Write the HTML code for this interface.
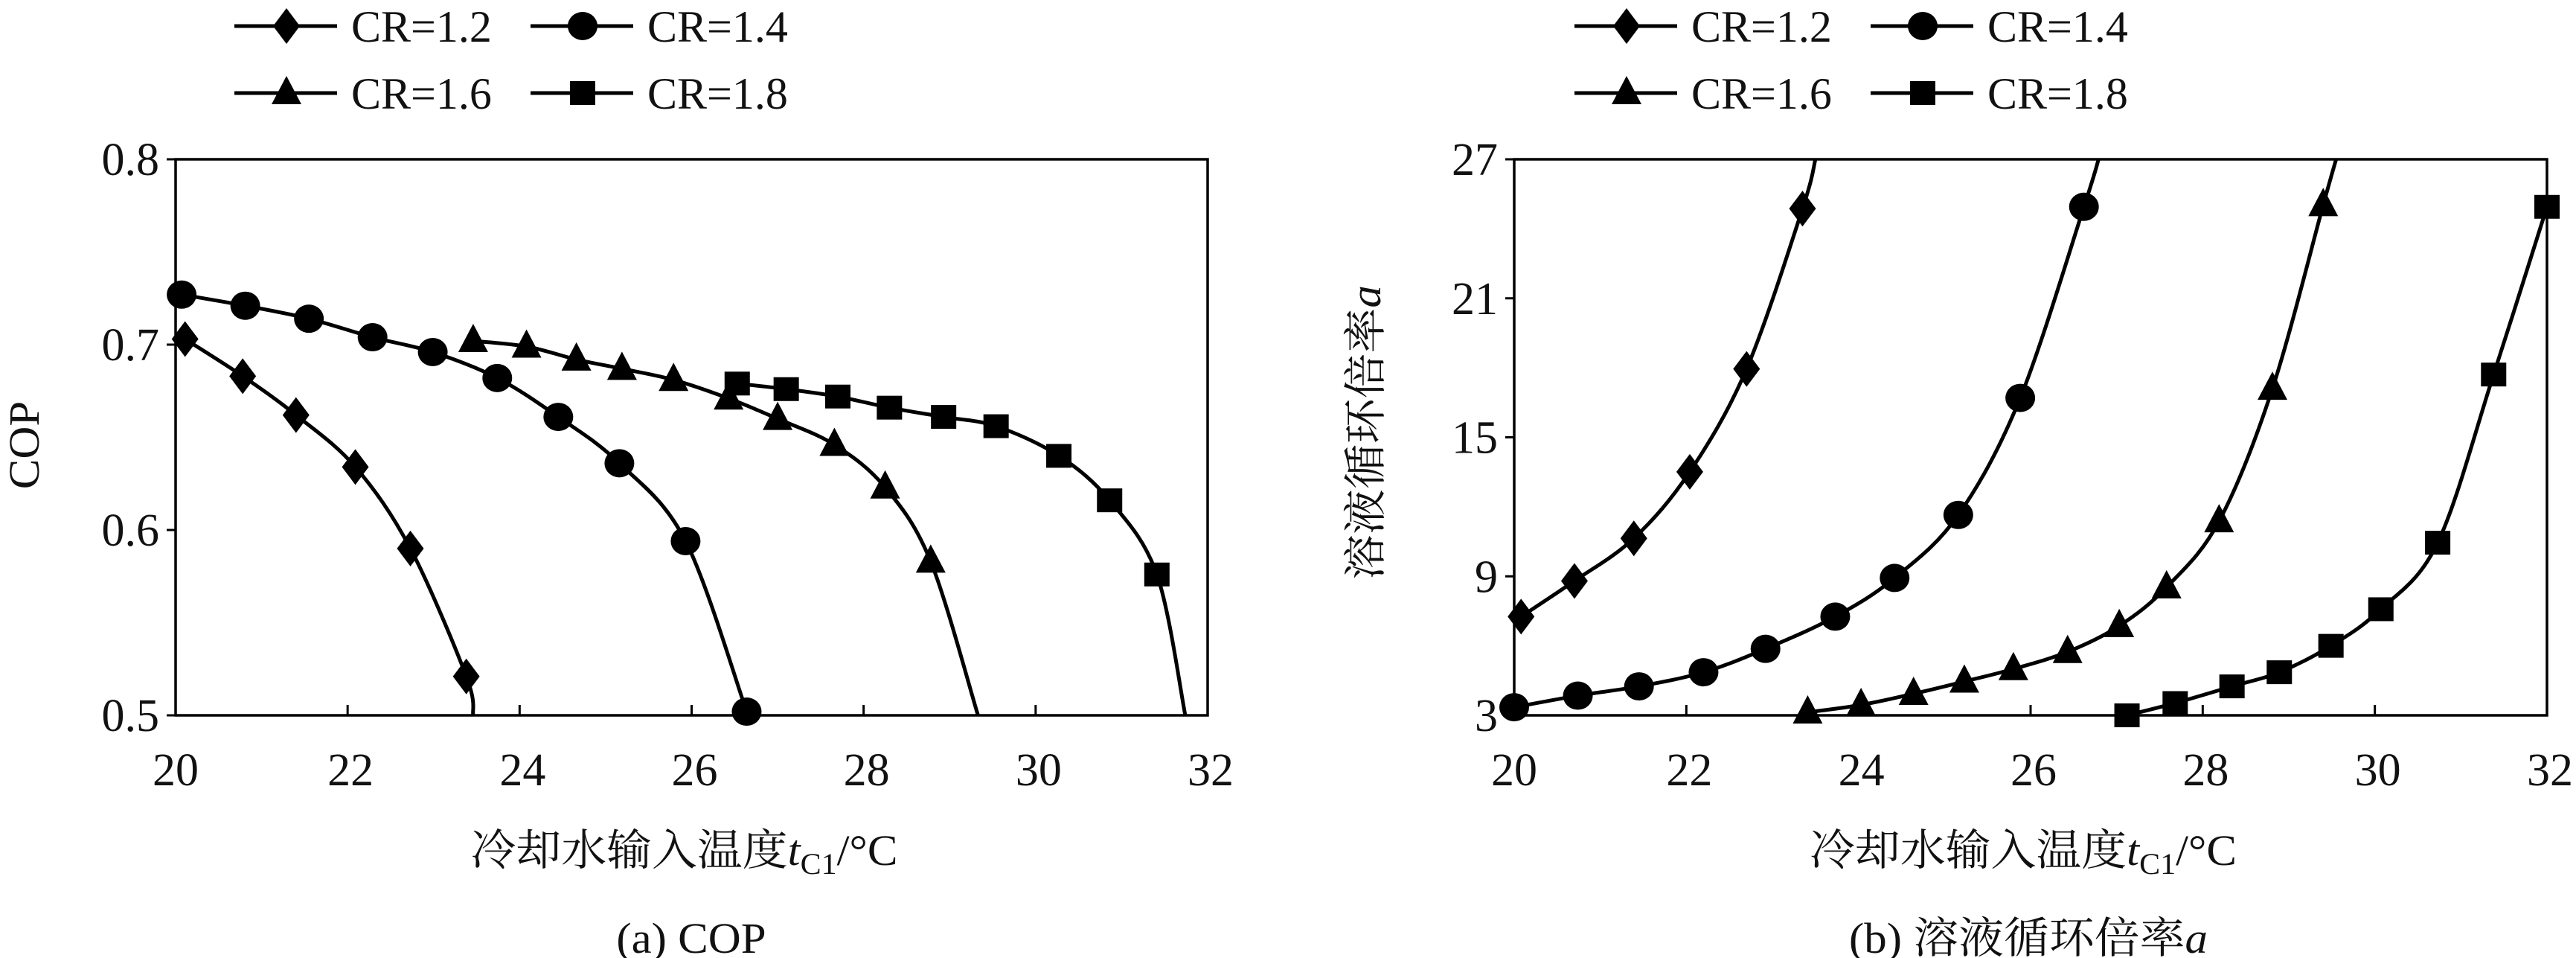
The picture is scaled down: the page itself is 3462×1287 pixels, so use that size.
<!DOCTYPE html>
<html><head><meta charset="utf-8"><style>
html,body{margin:0;padding:0;background:#fff;}
svg{display:block;}
text{font-family:"Liberation Serif","Noto Serif CJK SC","Noto Sans CJK SC",serif;fill:#111;}
</style></head><body>
<svg id="chart" width="3462" height="1287" viewBox="0 0 3462 1287" xmlns="http://www.w3.org/2000/svg"></svg>
<script>
// ---- data: panel (a) COP ----
const xTicks = [20,22,24,26,28,30,32];
const copTicks = [0.5,0.6,0.7,0.8];
const copTickLabels = ["0.5","0.6","0.7","0.8"];
const cop12x = [20.11,20.78,21.4,22.09,22.73,23.38];
const cop12y = [0.703,0.683,0.662,0.634,0.590,0.521];
const cop12end = [23.46,0.5];
const cop14x = [20.07,20.81,21.55,22.29,22.99,23.74,24.45,25.16,25.93,26.64];
const cop14y = [0.727,0.721,0.714,0.704,0.696,0.682,0.661,0.636,0.594,0.502];
const cop14end = null;
const cop16x = [23.46,24.08,24.66,25.19,25.79,26.43,27.0,27.66,28.25,28.78];
const cop16y = [0.702,0.699,0.692,0.687,0.681,0.671,0.660,0.646,0.623,0.583];
const cop16end = [29.33,0.5];
const cop18x = [26.53,27.1,27.7,28.3,28.93,29.54,30.27,30.86,31.41];
const cop18y = [0.679,0.676,0.672,0.666,0.661,0.656,0.640,0.616,0.576];
const cop18end = [31.74,0.5];
// ---- data: panel (b) circulation ratio ----
const aTicks = [3,9,15,21,27];
const aTickLabels = ["3","9","15","21","27"];
const a12x = [20.08,20.70,21.39,22.04,22.70,23.35];
const a12y = [7.26,8.80,10.64,13.51,17.95,24.87];
const a12end = [23.5,27];
const a14x = [20.0,20.74,21.45,22.2,22.92,23.73,24.42,25.16,25.88,26.62];
const a14y = [3.35,3.85,4.25,4.86,5.87,7.26,8.93,11.65,16.70,24.95];
const a14end = [26.79,27];
const a16x = [23.41,24.03,24.64,25.23,25.80,26.43,27.03,27.58,28.19,28.81,29.40];
const a16y = [3.13,3.45,3.93,4.46,5.0,5.74,6.86,8.53,11.38,17.10,25.03];
const a16end = [29.55,27];
const a18x = [27.12,27.68,28.34,28.89,29.49,30.07,30.73,31.38,32.0];
const a18y = [3.0,3.53,4.25,4.86,6.0,7.58,10.45,17.71,24.95];
const a18end = null;
const seriesNames = ["CR=1.2","CR=1.4","CR=1.6","CR=1.8"];
const markerKinds = ["diamond","circle","triangle","square"];

const NS="http://www.w3.org/2000/svg";
const svg=document.getElementById('chart');
function mk(tag,attrs,parent){const e=document.createElementNS(NS,tag);for(const k in attrs)e.setAttribute(k,attrs[k]);(parent||svg).appendChild(e);return e;}
function txt(s,x,y,size,anchor,parent,sx){const t=mk('text',{x:0,y:0,'font-size':size,'text-anchor':anchor||'start',transform:`translate(${x},${y}) scale(${sx||1},1)`},parent);t.textContent=s;return t;}

function marker(kind,x,y,g){
  let e;
  if(kind==='diamond') e=mk('polygon',{points:`${x},${y-24} ${x+18},${y} ${x},${y+24} ${x-18},${y}`,fill:'#000'},g);
  else if(kind==='circle') e=mk('ellipse',{cx:x,cy:y,rx:20,ry:19,fill:'#000'},g);
  else if(kind==='triangle') e=mk('polygon',{points:`${x},${y-23} ${x+20},${y+15} ${x-20},${y+15}`,fill:'#000'},g);
  else e=mk('rect',{x:x-17,y:y-16,width:34,height:32,fill:'#000'},g);
  return e;
}
function spline(pts){
  let d=`M${pts[0][0]},${pts[0][1]}`;
  for(let i=0;i<pts.length-1;i++){
    const p0=pts[i-1]||pts[i],p1=pts[i],p2=pts[i+1],p3=pts[i+2]||pts[i+1];
    const c1=[p1[0]+(p2[0]-p0[0])/6,p1[1]+(p2[1]-p0[1])/6];
    const c2=[p2[0]-(p3[0]-p1[0])/6,p2[1]-(p3[1]-p1[1])/6];
    d+=` C${c1[0]},${c1[1]} ${c2[0]},${c2[1]} ${p2[0]},${p2[1]}`;
  }
  return d;
}

function panel(opt){
  const L=opt.L,R=opt.R,T=214,B=961;
  const sx=v=>L+(v-20)/12*(R-L);
  const sy=v=>B-(v-opt.ymin)/(opt.ymax-opt.ymin)*(B-T);
  const g=mk('g',{});
  
  
  const cid='clip'+opt.name;
  const cp=mk('clipPath',{id:cid},g);mk('rect',{x:L,y:T,width:R-L,height:B-T},cp);
  xTicks.forEach(v=>{
    const x=sx(v);
    const t=mk('line',{x1:x,x2:x,y1:B,y2:B-14,stroke:'#000','stroke-width':3},g);
    
    
    const l=txt(String(v),x+(v===20?0:4),1055,62,'middle',g);
    
    
  });
  opt.yTicks.forEach((v,i)=>{
    const y=sy(v);
    const t=mk('line',{x1:L-12,x2:L,y1:y,y2:y,stroke:'#000','stroke-width':3},g);
    
    
    const l=txt(opt.yLabels[i],L-22,y+21,62,'end',g);
    
    
  });
  const box=mk('rect',{x:L,y:T,width:R-L,height:B-T,fill:'none',stroke:'#000','stroke-width':3.5},g);
  
  
  opt.series.forEach((s,i)=>{
    const sg=mk('g',{},g);
    
    
    const pts=s.x.map((v,j)=>[sx(v),sy(s.y[j])]);
    if(s.end) pts.push([sx(s.end[0]),sy(s.end[1])]);
    const p=mk('path',{d:spline(pts),fill:'none',stroke:'#000','stroke-width':5,'clip-path':`url(#${cid})`},sg);
    
    
    s.x.forEach((v,j)=>{
      const m=marker(markerKinds[i],sx(v),sy(s.y[j]),sg);
      
      
    });
  });
  const lg=mk('g',{},g);
  
  
  const lx=[opt.legX,opt.legX+398],ly=[35,125];
  seriesNames.forEach((n,i)=>{
    const x=lx[i%2],y=ly[Math.floor(i/2)];
    const e=mk('g',{},lg);
    
    
    mk('line',{x1:x,x2:x+138,y1:y,y2:y,stroke:'#000','stroke-width':5},e);
    marker(markerKinds[i],x+70,y,e);
    txt(n,x+157,y+21,60,'start',e,1.0);
  });
  const xt=mk('text',{x:0,y:0,'font-size':58,'text-anchor':'middle',transform:`translate(${(L+R)/2-10},${1162}) scale(1.05,1)`},g);
  
  
  xt.innerHTML='冷却水输入温度<tspan font-style="italic">t</tspan><tspan font-size="40" dy="12">C1</tspan><tspan dy="-12">/°C</tspan>';
  const yt=mk('text',{x:0,y:0,'font-size':58,'text-anchor':'middle',transform:`translate(${opt.ytX},${opt.ytY}) rotate(-90) scale(1.05,1)`},g);
  
  
  yt.innerHTML=opt.yTitle;
  const cap=mk('text',{x:0,y:0,'font-size':58,'text-anchor':'middle',transform:`translate(${opt.capX},${1280}) scale(1.05,1)`},g);
  
  
  cap.innerHTML=opt.caption;
}

panel({name:'panel-a-cop',L:236,R:1623,ymin:0.5,ymax:0.8,yTicks:copTicks,yLabels:copTickLabels,
  series:[{x:cop12x,y:cop12y,end:cop12end},{x:cop14x,y:cop14y,end:cop14end},{x:cop16x,y:cop16y,end:cop16end},{x:cop18x,y:cop18y,end:cop18end}],
  legX:315,ytX:52,ytY:598,yTitle:'COP',capX:929,caption:'(a) COP'});
panel({name:'panel-b-ratio',L:2035,R:3423,ymin:3,ymax:27,yTicks:aTicks,yLabels:aTickLabels,
  series:[{x:a12x,y:a12y,end:a12end},{x:a14x,y:a14y,end:a14end},{x:a16x,y:a16y,end:a16end},{x:a18x,y:a18y,end:a18end}],
  legX:2116,ytX:1855,ytY:581,yTitle:'溶液循环倍率<tspan font-style="italic">a</tspan>',capX:2726,caption:'(b) 溶液循环倍率<tspan font-style="italic">a</tspan>'});
</script>
</body></html>
